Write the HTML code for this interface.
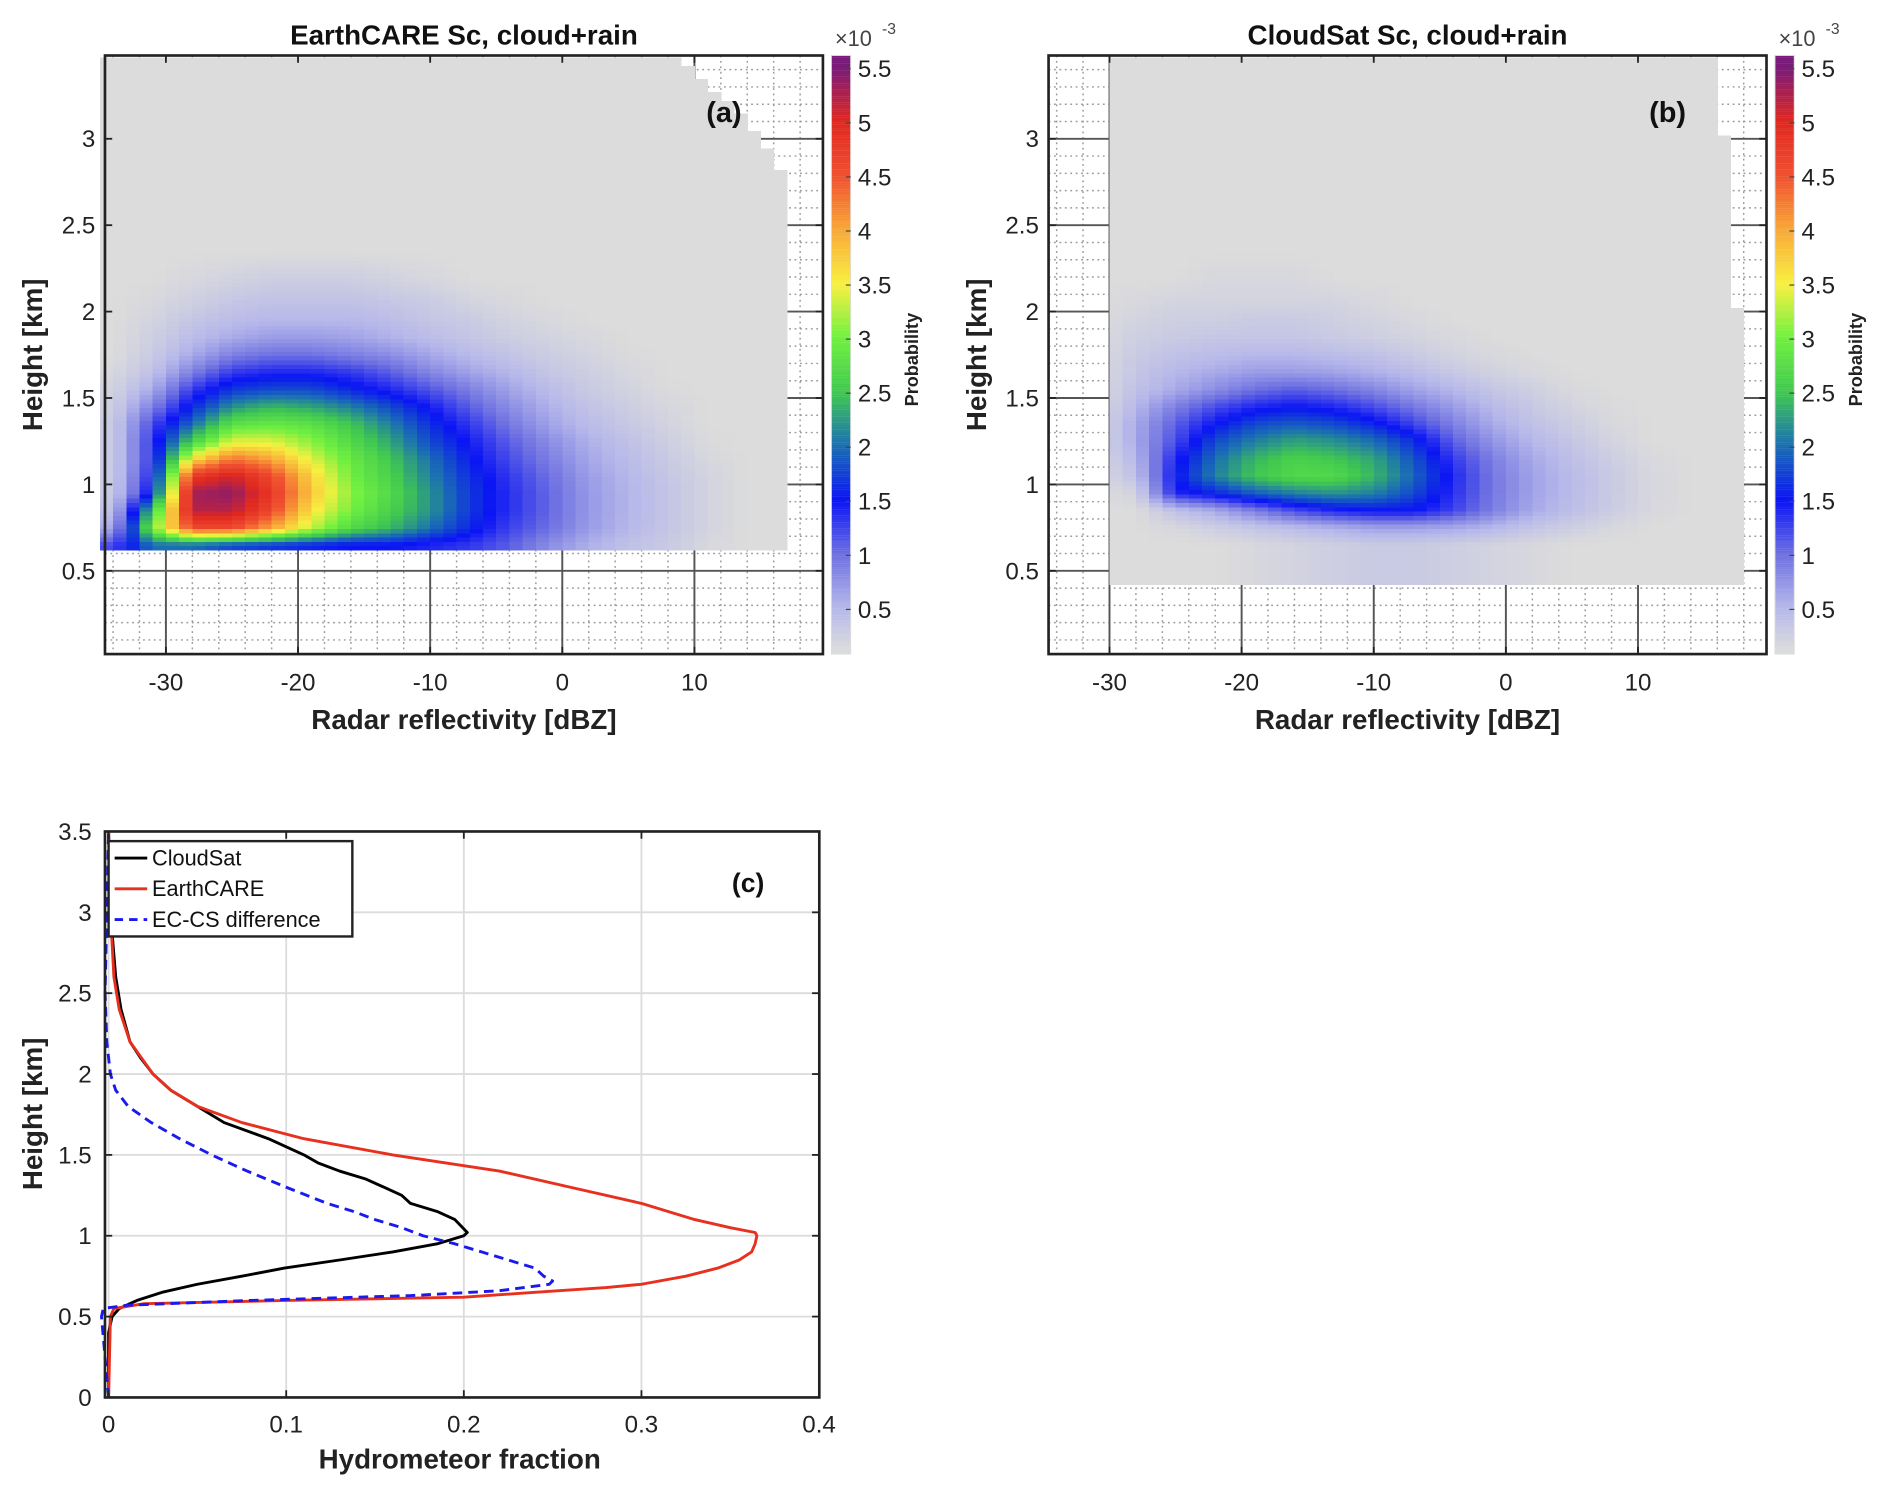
<!DOCTYPE html>
<html><head><meta charset="utf-8">
<style>
html,body{margin:0;padding:0;background:#fff;}
svg{display:block;}
text{font-family:"Liberation Sans",sans-serif;}
</style></head>
<body>
<svg id="fig" width="1892" height="1494" viewBox="0 0 1568 1238" preserveAspectRatio="none" xmlns="http://www.w3.org/2000/svg">
<rect width="1568" height="1238" fill="#fff"/>
<g id="layer"></g>
</svg>
<script>
// ---------- data ----------
const gridCols = [-34,-31,-28,-25,-22,-19,-16,-13,-10,-7,-4,-1,2,5,8,11,14];
const gridRows = [0.65,0.75,0.85,0.95,1.05,1.15,1.25,1.35,1.45,1.55,1.65,1.75,1.85,1.95,2.05,2.2,2.35];
const probA = [
[1.2,2.0,2.0,1.8,1.7,1.6,1.5,1.5,1.4,1.3,1.1,0.8,0.55,0.4,0.3,0.15,0.1],
[0.6,3.0,4.6,4.6,4.0,3.3,2.7,2.4,2.0,1.6,1.25,1.0,0.7,0.5,0.35,0.2,0.1],
[0.4,2.5,5.2,5.2,4.6,3.6,3.0,2.6,2.2,1.7,1.35,1.05,0.72,0.52,0.36,0.2,0.1],
[0.3,1.6,5.3,5.4,4.8,3.8,3.1,2.7,2.2,1.7,1.35,1.05,0.72,0.52,0.36,0.2,0.1],
[0.3,1.4,4.8,5.1,4.6,3.7,3.0,2.6,2.1,1.65,1.3,1.0,0.68,0.5,0.34,0.2,0.1],
[0.3,1.3,3.6,4.3,4.0,3.4,2.9,2.5,2.0,1.55,1.2,0.9,0.62,0.45,0.3,0.15,0.1],
[0.3,1.3,2.6,3.4,3.4,3.1,2.7,2.3,1.8,1.45,1.1,0.8,0.55,0.4,0.25,0.12,0.1],
[0.3,1.2,2.0,2.8,2.9,2.8,2.5,2.1,1.65,1.3,0.95,0.65,0.45,0.32,0.2,0.1,0.1],
[0.25,0.9,1.6,2.2,2.4,2.3,2.1,1.8,1.45,1.1,0.8,0.55,0.38,0.26,0.16,0.1,0.1],
[0.2,0.6,1.3,1.7,1.8,1.8,1.6,1.4,1.15,0.9,0.65,0.45,0.3,0.2,0.12,0.1,0.1],
[0.15,0.4,0.9,1.3,1.4,1.4,1.3,1.1,0.85,0.65,0.5,0.35,0.25,0.16,0.1,0.1,0.1],
[0.1,0.3,0.6,0.9,1.0,1.0,0.9,0.8,0.62,0.48,0.37,0.27,0.2,0.12,0.1,0.1,0.1],
[0.1,0.25,0.45,0.6,0.7,0.7,0.65,0.55,0.45,0.35,0.27,0.2,0.15,0.1,0.1,0.1,0.1],
[0.1,0.2,0.35,0.45,0.5,0.5,0.5,0.45,0.35,0.3,0.2,0.15,0.1,0.1,0.1,0.1,0.1],
[0.1,0.15,0.25,0.35,0.4,0.4,0.4,0.35,0.3,0.2,0.15,0.1,0.1,0.1,0.1,0.1,0.1],
[0.1,0.1,0.15,0.2,0.25,0.25,0.25,0.2,0.15,0.1,0.1,0.1,0.1,0.1,0.1,0.1,0.1],
[0.1,0.1,0.1,0.1,0.1,0.1,0.1,0.1,0.1,0.1,0.1,0.1,0.1,0.1,0.1,0.1,0.1]];
const probB = [
[0.1,0.1,0.1,0.1,0.1,0.15,0.2,0.25,0.3,0.3,0.25,0.2,0.15,0.1,0.1,0.1,0.1],
[0.1,0.1,0.1,0.15,0.25,0.35,0.45,0.55,0.65,0.65,0.6,0.5,0.35,0.25,0.15,0.1,0.1],
[0.1,0.1,0.1,0.4,0.6,0.9,1.2,1.4,1.5,1.5,1.25,0.9,0.6,0.42,0.28,0.15,0.1],
[0.1,0.1,0.2,1.4,1.6,1.9,2.1,2.2,2.1,1.8,1.35,0.95,0.65,0.46,0.3,0.16,0.1],
[0.1,0.1,0.4,1.5,2.1,2.5,2.7,2.7,2.4,1.95,1.4,0.95,0.65,0.46,0.3,0.16,0.1],
[0.1,0.1,0.5,1.4,2.0,2.4,2.6,2.5,2.3,1.85,1.3,0.9,0.6,0.42,0.26,0.14,0.1],
[0.1,0.1,0.6,1.2,1.8,2.1,2.3,2.2,2.0,1.65,1.1,0.75,0.5,0.35,0.2,0.1,0.1],
[0.1,0.1,0.6,1.1,1.5,1.8,1.9,1.8,1.6,1.25,0.9,0.6,0.4,0.27,0.15,0.1,0.1],
[0.1,0.1,0.5,0.9,1.2,1.4,1.5,1.4,1.2,0.95,0.7,0.48,0.32,0.2,0.12,0.1,0.1],
[0.1,0.1,0.4,0.6,0.8,1.0,1.1,1.0,0.85,0.65,0.5,0.35,0.24,0.14,0.1,0.1,0.1],
[0.1,0.1,0.35,0.5,0.6,0.7,0.7,0.65,0.55,0.45,0.32,0.22,0.15,0.1,0.1,0.1,0.1],
[0.1,0.1,0.3,0.4,0.45,0.5,0.5,0.45,0.4,0.3,0.2,0.15,0.1,0.1,0.1,0.1,0.1],
[0.1,0.1,0.25,0.3,0.35,0.35,0.35,0.3,0.25,0.2,0.15,0.1,0.1,0.1,0.1,0.1,0.1],
[0.1,0.1,0.2,0.25,0.25,0.3,0.3,0.25,0.2,0.15,0.1,0.1,0.1,0.1,0.1,0.1,0.1],
[0.1,0.1,0.15,0.2,0.2,0.2,0.2,0.2,0.15,0.1,0.1,0.1,0.1,0.1,0.1,0.1,0.1],
[0.1,0.1,0.1,0.1,0.15,0.15,0.15,0.1,0.1,0.1,0.1,0.1,0.1,0.1,0.1,0.1,0.1],
[0.1,0.1,0.1,0.1,0.1,0.1,0.1,0.1,0.1,0.1,0.1,0.1,0.1,0.1,0.1,0.1,0.1]];
const extentH = [0.4,1.0,2.0,2.5,2.8,3.0,3.2,3.46];
const extentRightA = [17,17,17,16.8,16,14.5,12,8];
const extentRightB = [17,17.5,17,17,16.5,16,15.5,15];
const xTicksAB = [-30,-20,-10,0,10];
const yTicksAB = [0.5,1,1.5,2,2.5,3];
const cbTicks = [0.5,1,1.5,2,2.5,3,3.5,4,4.5,5,5.5];

const hCS = [0,0.4,0.5,0.55,0.6,0.65,0.7,0.75,0.8,0.85,0.9,0.95,1.0,1.02,1.1,1.15,1.2,1.25,1.3,1.35,1.4,1.45,1.5,1.55,1.6,1.7,1.8,1.9,2.0,2.1,2.2,2.4,2.6,3.0,3.5];
const fracCS = [0,0,0.002,0.006,0.016,0.03,0.05,0.075,0.099,0.13,0.16,0.185,0.2,0.202,0.195,0.185,0.17,0.165,0.155,0.145,0.13,0.118,0.11,0.1,0.09,0.065,0.05,0.035,0.025,0.018,0.012,0.007,0.004,0.001,0];
const hEC = [0,0.5,0.55,0.58,0.6,0.62,0.65,0.68,0.7,0.75,0.8,0.85,0.9,0.95,1.0,1.02,1.05,1.1,1.2,1.3,1.4,1.5,1.6,1.7,1.8,1.9,2.0,2.2,2.4,2.6,3.0,3.5];
const fracEC = [0,0.001,0.003,0.02,0.1,0.2,0.24,0.28,0.3,0.325,0.343,0.355,0.362,0.364,0.365,0.364,0.35,0.33,0.3,0.26,0.22,0.16,0.11,0.075,0.05,0.035,0.025,0.012,0.006,0.003,0.001,0];
const hDiff = [0,0.5,0.55,0.57,0.6,0.63,0.66,0.7,0.72,0.75,0.8,0.85,0.9,0.95,1.0,1.05,1.1,1.15,1.2,1.3,1.4,1.5,1.6,1.7,1.8,1.9,2.0,2.2,2.5,3.0,3.5];
const fracDiff = [0,-0.004,-0.003,0.01,0.08,0.17,0.22,0.248,0.25,0.245,0.24,0.225,0.21,0.195,0.177,0.165,0.15,0.138,0.123,0.1,0.078,0.058,0.04,0.024,0.011,0.004,0.001,-0.001,-0.002,-0.001,0];
const xTicksC = [0,0.1,0.2,0.3,0.4];
const yTicksC = [0,0.5,1,1.5,2,2.5,3,3.5];

// ---------- helpers ----------
const NS='http://www.w3.org/2000/svg';
const layer=document.getElementById('layer');
function el(tag,attrs,parent){const e=document.createElementNS(NS,tag);for(const k in attrs)e.setAttribute(k,attrs[k]);(parent||layer).appendChild(e);return e;}
function txt(s,attrs,parent){const e=el('text',attrs,parent);e.textContent=s;return e;}
const cstops=[[0.1,[220,220,220]],[0.5,[182,184,234]],[1.0,[110,112,226]],[1.5,[10,20,245]],[2.0,[26,110,180]],[2.5,[64,200,80]],[3.0,[112,240,64]],[3.5,[248,240,64]],[4.0,[248,168,56]],[4.5,[240,80,48]],[5.0,[224,40,32]],[5.5,[122,26,122]]];
function cmap(v){if(v<=cstops[0][0])return 'rgb(220,220,220)';for(let i=1;i<cstops.length;i++){if(v<=cstops[i][0]){const a=cstops[i-1],b=cstops[i],t=(v-a[0])/(b[0]-a[0]);const c=a[1].map((x,j)=>Math.round(x+(b[1][j]-x)*t));return `rgb(${c})`;}}return 'rgb(122,26,122)';}
function interp1(xs,ys,x){if(x<=xs[0])return ys[0];for(let i=1;i<xs.length;i++)if(x<=xs[i]){const t=(x-xs[i-1])/(xs[i]-xs[i-1]);return ys[i-1]+(ys[i]-ys[i-1])*t;}return ys[ys.length-1];}
function gridVal(g,v,h){
  if(h>gridRows[gridRows.length-1]) return 0.1;
  if(v>gridCols[gridCols.length-1]) return 0.1;
  let hh=Math.max(h,gridRows[0]),vv=Math.max(v,gridCols[0]);
  let r=0;while(r<gridRows.length-2&&hh>gridRows[r+1])r++;
  let c=0;while(c<gridCols.length-2&&vv>gridCols[c+1])c++;
  const tr=(hh-gridRows[r])/(gridRows[r+1]-gridRows[r]),tc=(vv-gridCols[c])/(gridCols[c+1]-gridCols[c]);
  const a=g[r][c]*(1-tc)+g[r][c+1]*tc,b=g[r+1][c]*(1-tc)+g[r+1][c+1]*tc;return a*(1-tr)+b*tr;}

function heatPanel(o){
  const X=v=>o.x0+v*10.95, Y=h=>544.6-h*143.2;
  const L=87+o.dx,R=682+o.dx,T=46,B=542;
  const g=el('g',{});
  
  
  for(let v=-34;v<=18;v+=2){el('line',{x1:X(v),x2:X(v),y1:T,y2:B,stroke:'#9a9a9a','stroke-width':1.2,'stroke-dasharray':'1.5,3'},g);}
  for(let h=0.1;h<3.45;h+=0.1){el('line',{x1:L,x2:R,y1:Y(h),y2:Y(h),stroke:'#9a9a9a','stroke-width':1.2,'stroke-dasharray':'1.5,3'},g);}
  xTicksAB.forEach(v=>el('line',{x1:X(v),x2:X(v),y1:T,y2:B,stroke:'#555','stroke-width':1.6},g));
  yTicksAB.forEach(h=>el('line',{x1:L,x2:R,y1:Y(h),y2:Y(h),stroke:'#555','stroke-width':1.6},g));
  const hm=el('g',{'shape-rendering':'crispEdges'},g);
  
  
  for(let h=o.hMin;h<3.46;h+=0.025){
    const right=interp1(extentH,o.ext,h);
    for(let v=o.vMin;v<right;v+=1){
      const val=gridVal(o.grid,v+0.5,h+0.0125);
      el('rect',{x:X(v),y:Y(h+0.025),width:10.95+0.4,height:3.58+0.4,fill:cmap(val)},hm);
    }
  }
  el('rect',{x:L,y:T,width:R-L,height:B-T,fill:'none',stroke:'#222','stroke-width':2.2},g);
  xTicksAB.forEach(v=>{el('line',{x1:X(v),x2:X(v),y1:B,y2:B-6,stroke:'#222','stroke-width':1.5},g);el('line',{x1:X(v),x2:X(v),y1:T,y2:T+6,stroke:'#222','stroke-width':1.5},g);
    const t=txt(String(v),{x:X(v),y:572,'font-size':20,'text-anchor':'middle',fill:'#222'},g);});
  yTicksAB.forEach(h=>{el('line',{x1:L,x2:L+6,y1:Y(h),y2:Y(h),stroke:'#222','stroke-width':1.5},g);el('line',{x1:R,x2:R-6,y1:Y(h),y2:Y(h),stroke:'#222','stroke-width':1.5},g);
    const t=txt(String(h),{x:L-8,y:Y(h)+7,'font-size':20,'text-anchor':'end',fill:'#222'},g);});
  let t=txt(o.title,{x:(L+R)/2,y:37,'font-size':23,'font-weight':'bold','text-anchor':'middle',fill:'#111'},g);
  t=txt('Radar reflectivity [dBZ]',{x:(L+R)/2,y:604,'font-size':23,'font-weight':'bold','text-anchor':'middle',fill:'#222'},g);
  t=txt('Height [km]',{x:0,y:0,'font-size':23,'font-weight':'bold','text-anchor':'middle',fill:'#222',transform:`translate(${L-52},294) rotate(-90)`},g);
  t=txt(o.label,{x:R-82,y:101,'font-size':24,'font-weight':'bold','text-anchor':'middle',fill:'#111'},g);
  const cb=el('g',{},g);
  const CL=R+7,CW=16,CY=v=>505-(v-0.5)*89.6;
  for(let v=0.087;v<5.62;v+=0.02){el('rect',{x:CL,y:CY(v+0.02),width:CW,height:1.9,fill:cmap(v)},cb);}
  el('rect',{x:CL,y:T,width:CW,height:B-T,fill:'none',stroke:'#ddd','stroke-width':0.8},cb);
  cbTicks.forEach(v=>{el('line',{x1:CL+CW-4,x2:CL+CW,y1:CY(v),y2:CY(v),stroke:'#444','stroke-width':1},cb);
    const tt=txt(String(v),{x:CL+CW+6,y:CY(v)+7,'font-size':20,fill:'#222'},cb);});
  t=txt('×10',{x:CL+3,y:38,'font-size':18,fill:'#444'},cb);
  txt('-3',{x:CL+42,y:28,'font-size':13,fill:'#444'},cb);
  t=txt('Probability',{x:0,y:0,'font-size':15,'font-weight':'bold','text-anchor':'middle',fill:'#222',transform:`translate(${CL+CW+56},298) rotate(-90)`},cb);
}
heatPanel({name:'panel-a',x0:466,dx:0,grid:probA,ext:extentRightA,hMin:0.62,vMin:-35,title:'EarthCARE Sc, cloud+rain',label:'(a)'});
heatPanel({name:'panel-b',x0:1248,dx:782,grid:probB,ext:extentRightB,hMin:0.42,vMin:-30,title:'CloudSat Sc, cloud+rain',label:'(b)'});

// ---------- panel c ----------
(function(){
  const X=v=>90+v*1472, Y=h=>1158-h*134;
  const L=87,R=679,T=689,B=1158;
  const g=el('g',{});
  xTicksC.forEach(v=>el('line',{x1:X(v),x2:X(v),y1:T,y2:B,stroke:'#dcdcdc','stroke-width':1.5},g));
  yTicksC.forEach(h=>el('line',{x1:L,x2:R,y1:Y(h),y2:Y(h),stroke:'#dcdcdc','stroke-width':1.5},g));
  function line(hs,fs,color,name,dash){const p=hs.map((h,i)=>`${i?'L':'M'}${X(fs[i]).toFixed(1)},${Y(h).toFixed(1)}`).join('');
    const e=el('path',{d:p,fill:'none',stroke:color,'stroke-width':2.4,'stroke-dasharray':dash||'none','stroke-linejoin':'round'},g);}
  line(hCS,fracCS,'#000','cloudsat-line');
  line(hEC,fracEC,'#e8301e','earthcare-line');
  line(hDiff,fracDiff,'#1a1aee','difference-line','8,5');
  el('rect',{x:L,y:T,width:R-L,height:B-T,fill:'none',stroke:'#222','stroke-width':2.2},g);
  xTicksC.forEach(v=>{el('line',{x1:X(v),x2:X(v),y1:B,y2:B-6,stroke:'#222','stroke-width':1.5},g);el('line',{x1:X(v),x2:X(v),y1:T,y2:T+6,stroke:'#222','stroke-width':1.5},g);
    const t=txt(String(v),{x:X(v),y:1187,'font-size':20,'text-anchor':'middle',fill:'#222'},g);});
  yTicksC.forEach(h=>{el('line',{x1:L,x2:L+6,y1:Y(h),y2:Y(h),stroke:'#222','stroke-width':1.5},g);el('line',{x1:R,x2:R-6,y1:Y(h),y2:Y(h),stroke:'#222','stroke-width':1.5},g);
    const t=txt(String(h),{x:L-11,y:Y(h)+7,'font-size':20,'text-anchor':'end',fill:'#222'},g);});
  let t=txt('Hydrometeor fraction',{x:381,y:1217,'font-size':23,'font-weight':'bold','text-anchor':'middle',fill:'#222'},g);
  t=txt('Height [km]',{x:0,y:0,'font-size':23,'font-weight':'bold','text-anchor':'middle',fill:'#222',transform:'translate(35,923) rotate(-90)'},g);
  t=txt('(c)',{x:620,y:739,'font-size':22,'font-weight':'bold','text-anchor':'middle',fill:'#111'},g);
  const lg=el('g',{},g);
  el('rect',{x:90,y:697,width:202,height:79,fill:'#fff',stroke:'#222','stroke-width':2},lg);
  [['CloudSat','#000','none'],['EarthCARE','#e8301e','none'],['EC-CS difference','#1a1aee','7,5']].forEach((d,i)=>{const y=711+i*25.5;
    const e=el('g',{},lg);
    el('line',{x1:95,x2:122,y1:y,y2:y,stroke:d[1],'stroke-width':2.4,'stroke-dasharray':d[2]},e);
    txt(d[0],{x:126,y:y+6,'font-size':18,fill:'#111'},e);});
})();
</script>
</body></html>
